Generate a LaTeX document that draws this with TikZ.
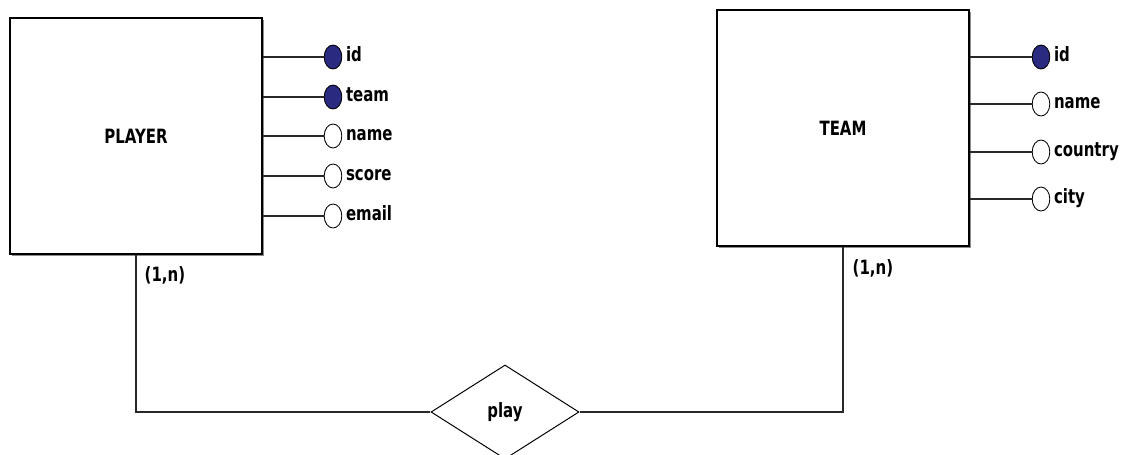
\documentclass[tikz,border=0pt]{standalone}
\usepackage{fontspec}
\setmainfont{DejaVu Sans}[FakeStretch=0.76]
\usetikzlibrary{shapes.geometric,shadows}
\definecolor{keyblue}{RGB}{42,42,128}
\definecolor{linkgray}{RGB}{40,40,40}

\begin{document}
\begin{tikzpicture}[x=0.025cm, y=-0.025cm,
  entity/.style={rectangle, draw, line width=1.2pt, fill=white,
    minimum width=6.3cm, minimum height=5.9cm,
    font=\bfseries\fontsize{14}{16}\selectfont,
    drop shadow={shadow xshift=0.06cm, shadow yshift=-0.06cm, fill=black!45, opacity=1}},
  attr/.style={ellipse, draw, line width=0.6pt, inner sep=0pt,
    minimum width=0.44cm, minimum height=0.6cm, fill=white},
  key/.style={attr, fill=keyblue},
  lbl/.style={anchor=west, inner sep=2.5pt, text height=10pt, text depth=3pt,
    font=\bfseries\fontsize{14}{16}\selectfont},
  card/.style={anchor=north west, inner sep=1pt, font=\bfseries\fontsize{14}{16}\selectfont},
  rel/.style={diamond, draw, line width=0.7pt, fill=white, aspect=1.57,
    minimum width=3.7cm, minimum height=2.35cm, inner sep=0pt,
    font=\bfseries\fontsize{14}{16}\selectfont},
  link/.style={draw=linkgray, line width=0.85pt}
]
\useasboundingbox (0,0) rectangle (1128,454);

% Entity PLAYER
\node[entity] (player) at (136,136) {PLAYER};
\node[key]  (pid)    at (333,57)  {};
\node[key]  (pteam)  at (333,97)  {};
\node[attr] (pname)  at (333,136) {};
\node[attr] (pscore) at (333,176) {};
\node[attr] (pemail) at (333,216) {};
\node[lbl] at (pid.east)    {id};
\node[lbl] at (pteam.east)  {team};
\node[lbl] at (pname.east)  {name};
\node[lbl] at (pscore.east) {score};
\node[lbl] at (pemail.east) {email};
\draw[link] (player.east |- pid)    -- (pid);
\draw[link] (player.east |- pteam)  -- (pteam);
\draw[link] (player.east |- pname)  -- (pname);
\draw[link] (player.east |- pscore) -- (pscore);
\draw[link] (player.east |- pemail) -- (pemail);

% Entity TEAM
\node[entity] (team) at (843,128) {TEAM};
\node[key]  (tid)      at (1041,57)  {};
\node[attr] (tname)    at (1041,104) {};
\node[attr] (tcountry) at (1041,152) {};
\node[attr] (tcity)    at (1041,199) {};
\node[lbl] at (tid.east)      {id};
\node[lbl] at (tname.east)    {name};
\node[lbl] at (tcountry.east) {country};
\node[lbl] at (tcity.east)    {city};
\draw[link] (team.east |- tid)      -- (tid);
\draw[link] (team.east |- tname)    -- (tname);
\draw[link] (team.east |- tcountry) -- (tcountry);
\draw[link] (team.east |- tcity)    -- (tcity);

% Relationship
\node[rel] (play) at (505,412) {play};
\draw[link] (player.south) |- (play.west);
\draw[link] (team.south) |- (play.east);
\node[card] (pcard) at (143,265) {(1,n)};
\node[card] (tcard) at (851,258) {(1,n)};
\end{tikzpicture}
\end{document}
